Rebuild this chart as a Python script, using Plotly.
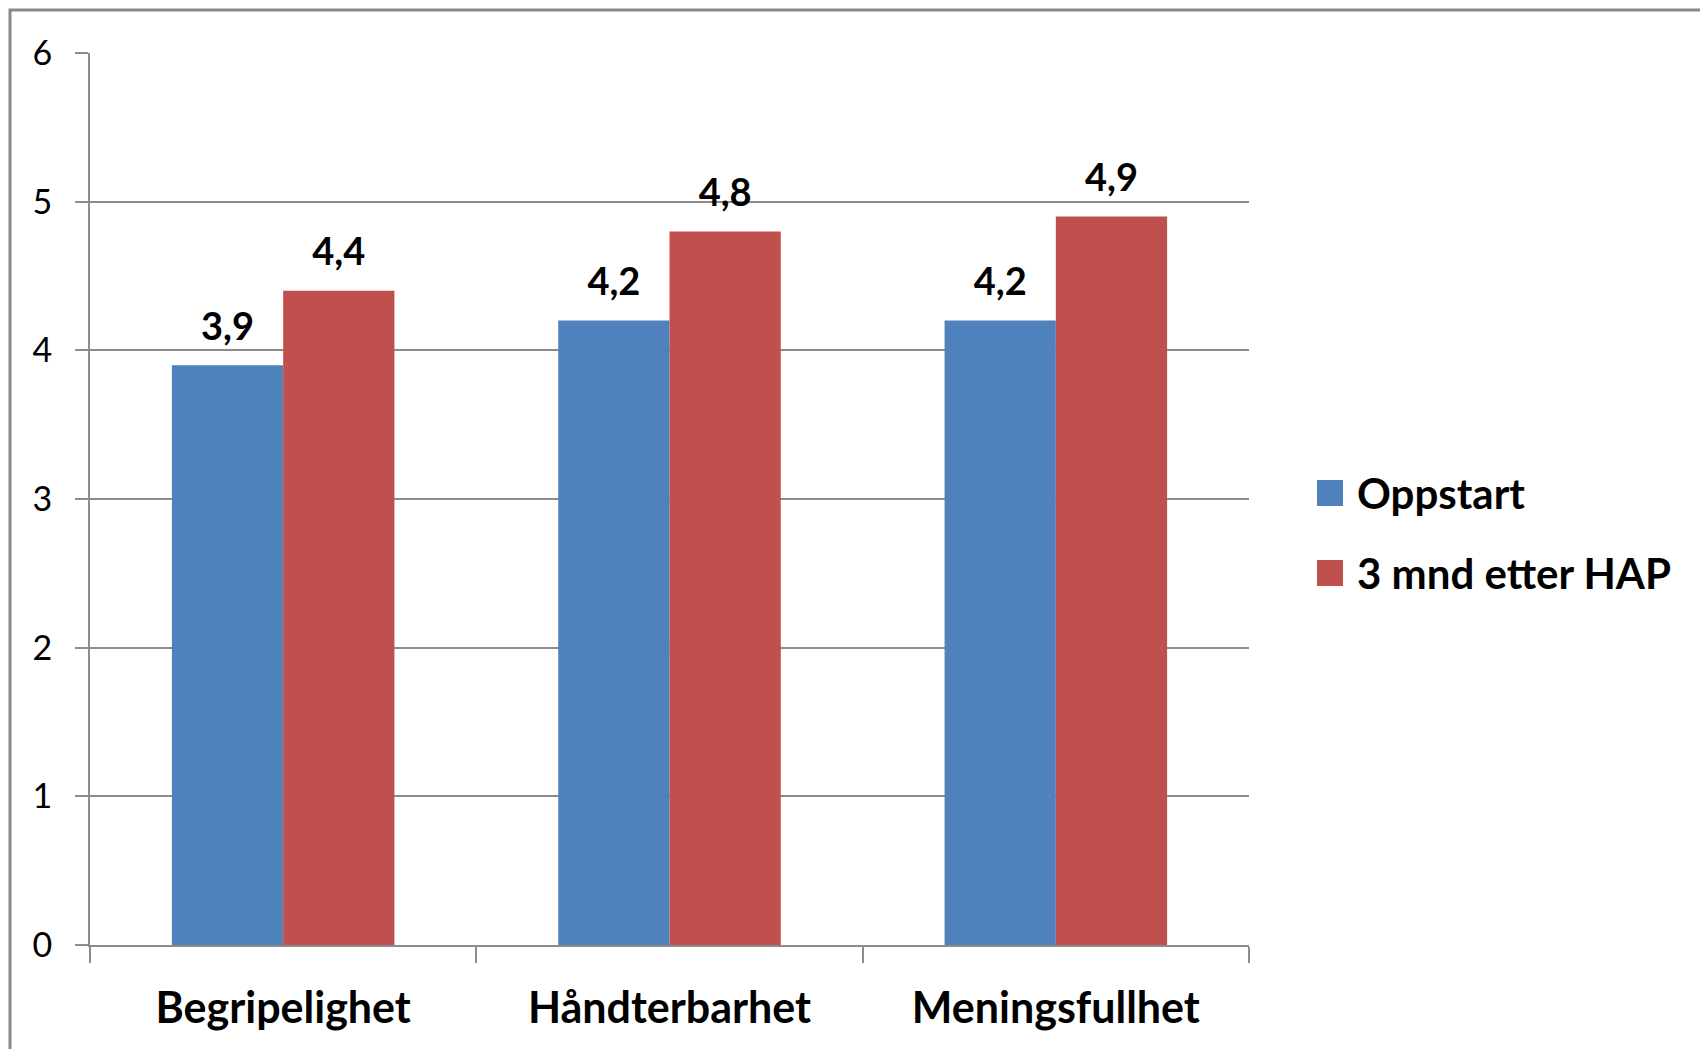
import plotly.graph_objects as go

categories = ["Begripelighet", "Håndterbarhet", "Meningsfullhet"]
series_names = ["Oppstart", "3 mnd etter HAP"]
oppstart = [3.9, 4.2, 4.2]
etter_hap = [4.4, 4.8, 4.9]
series_values = [oppstart, etter_hap]
series_colors = ["#4F81BD", "#C0504D"]
y_ticks = [0, 1, 2, 3, 4, 5, 6]

W, H = 1700, 1049
ML, MR, MT, MB = 90, 451, 53, 104
PW, PH = W - ML - MR, H - MT - MB

def px_x(p):
    return (p - ML) / PW

def px_y(p):
    return (H - MB - p) / PH

FONT = "Lato"
GRID = "#8c8c8c"
BARGAP = 0.424

fig = go.Figure()
for i, (name, vals, col) in enumerate(zip(series_names, series_values, series_colors)):
    fig.add_trace(go.Bar(
        x=categories, y=vals, name=name, marker=dict(color=col, line=dict(width=0)),
        offsetgroup=str(i), showlegend=False, hoverinfo="skip"))
    fig.add_trace(go.Scatter(
        x=categories, y=vals, mode="markers+text", offsetgroup=str(i),
        marker=dict(size=24, opacity=0), texttemplate="<b>%{y:.1f}</b>",
        textposition="top center", textfont=dict(family=FONT, size=38, color="#000000"),
        showlegend=False, hoverinfo="skip", cliponaxis=False))

fig.update_layout(
    width=W, height=H, autosize=False,
    margin=dict(l=ML, r=MR, t=MT, b=MB, pad=0),
    paper_bgcolor="white", plot_bgcolor="white",
    barmode="group", bargap=BARGAP, bargroupgap=0,
    scattermode="group", scattergap=BARGAP,
    separators=",.",
    font=dict(family=FONT, color="#000000"),
    xaxis=dict(
        type="category", tickson="boundaries", ticks="outside", ticklen=16, tickwidth=2,
        tickcolor=GRID, showline=True, linecolor=GRID, linewidth=2, showgrid=False,
        tickfont=dict(family=FONT, size=43, color="#000000"), ticklabelstandoff=24,
        tickprefix="<b>", ticksuffix="</b>", zeroline=False),
    yaxis=dict(
        range=[0, 6], tickvals=y_ticks, ticks="outside", ticklen=13, tickwidth=2, tickcolor=GRID,
        showline=True, linecolor=GRID, linewidth=2, showgrid=True, gridcolor=GRID, gridwidth=2,
        tickfont=dict(family=FONT, size=34, color="#000000"), ticklabelstandoff=16, zeroline=False),
)

# outer chart frame
fig.add_shape(type="rect", xref="paper", yref="paper",
              x0=px_x(10), x1=px_x(W + 50), y0=px_y(H + 50), y1=px_y(10),
              line=dict(color="#888888", width=3), fillcolor="rgba(0,0,0,0)", layer="above")

# legend (manual, to match large square keys)
leg_y = [493, 573]
for name, col, yc in zip(series_names, series_colors, leg_y):
    fig.add_shape(type="rect", xref="paper", yref="paper",
                  x0=px_x(1317), x1=px_x(1343), y0=px_y(yc + 13), y1=px_y(yc - 13),
                  line=dict(width=0), fillcolor=col)
    fig.add_annotation(xref="paper", yref="paper", x=px_x(1355), y=px_y(yc),
                       xanchor="left", yanchor="middle", showarrow=False,
                       text=f"<b>{name}</b>", font=dict(family=FONT, size=42, color="#000000"))

fig.write_html("out.html", config={"displayModeBar": False},
               post_script="document.body.style.margin='0';")
